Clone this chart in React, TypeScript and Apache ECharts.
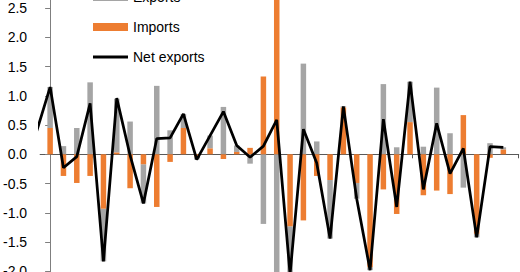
import React, { useEffect, useRef } from "react";
import * as echarts from "echarts";

// Quarter index; the first period sits just left of the plotted window.
const periods = [
  -1, 0, 1, 2, 3, 4, 5, 6, 7, 8, 9, 10, 11, 12, 13, 14, 15, 16, 17, 18, 19,
  20, 21, 22, 23, 24, 25, 26, 27, 28, 29, 30, 31, 32, 33, 34,
];

// Contributions, percentage points
const imports = [
  0.2, 0.45, -0.37, -0.49, -0.37, -0.93, 0.03, -0.58, -0.17, -0.9, -0.13,
  0.45, -0.04, 0.1, -0.08, 0.04, 0.11, 1.33, 2.95, -1.23, -1.13, -0.37, -0.44,
  0.8, -0.49, -1.93, -0.6, -1.02, 0.55, -0.7, -0.62, -0.68, 0.67, -1.36,
  -0.06, 0.08,
];

const exports = [
  0.15, 0.7, 0.14, 0.45, 1.23, -0.9, 0.92, 0.56, -0.67, 1.17, 0.41, 0.24,
  -0.05, 0.22, 0.81, 0.11, -0.16, -1.19, -2.36, -0.82, 1.55, 0.22, -1.0, 0.02,
  -0.27, -0.05, 1.2, 0.12, 0.69, 0.13, 1.14, 0.36, -0.57, -0.06, 0.19, 0.04,
];

const netExports = [
  0.4, 1.15, -0.23, -0.04, 0.87, -1.83, 0.96, -0.02, -0.84, 0.27, 0.28, 0.69,
  -0.09, 0.32, 0.73, 0.15, -0.05, 0.14, 0.59, -2.05, 0.43, -0.15, -1.44, 0.82,
  -0.76, -1.98, 0.6, -0.9, 1.24, -0.6, 0.53, -0.33, 0.1, -1.42, 0.13, 0.12,
];

// Year boundary ticks along the zero line
const yearTicks = [3.15, 11.15, 19.15, 27.15, 35.15];

const FONT = "'Liberation Sans', Arial, sans-serif";
const ORANGE = "#ED7D31";
const GREY = "#A5A5A5";
const BAR_W = 5.5;

const tradeRows = periods.map((p, i) => [p, imports[i], exports[i]]);
const netRows = periods.map((p, i) => [p, netExports[i]]);

// Imports sit on the zero line; exports stack on top of imports when both
// share a sign, otherwise they grow from zero in the other direction.
function stackedBar(which: "imports" | "exports", color: string) {
  return (params: any, api: any) => {
    const x = api.value(0);
    const imp = api.value(1);
    const exp = api.value(2);
    let base = 0;
    let top = imp;
    if (which === "exports") {
      base = Math.sign(exp) === Math.sign(imp) ? imp : 0;
      top = base + exp;
    }
    const p0 = api.coord([x, base]);
    const p1 = api.coord([x, top]);
    const rect = {
      x: p0[0] - BAR_W / 2,
      y: Math.min(p0[1], p1[1]),
      width: BAR_W,
      height: Math.abs(p1[1] - p0[1]),
    };
    const cs = params.coordSys;
    const clipped = echarts.graphic.clipRectByRect(rect, {
      x: cs.x,
      y: cs.y,
      width: cs.width,
      height: cs.height,
    });
    if (!clipped) return null;
    return { type: "rect", shape: clipped, style: { fill: color } };
  };
}

export default function App() {
  const ref = useRef<HTMLDivElement>(null);

  useEffect(() => {
    if (!ref.current) return;
    const chart = echarts.init(ref.current, null, { renderer: "svg" });
    chart.setOption({
      animation: false,
      backgroundColor: "#ffffff",
      grid: { left: 40, right: 1.33, top: 18.8, bottom: 39.45 },
      legend: {
        orient: "vertical",
        left: 88,
        top: 24,
        itemWidth: 35,
        itemHeight: 8,
        itemGap: 14,
        symbolKeepAspect: true,
        textStyle: { fontFamily: FONT, fontSize: 14, color: "#000", lineHeight: 16 },
        data: [
          { name: "Exports", icon: "rect", itemStyle: { color: GREY } },
          { name: "Imports", icon: "rect", itemStyle: { color: ORANGE } },
          {
            name: "Net exports",
            icon: "path://M0,0L35,0L35,3L0,3Z",
            itemStyle: { color: "#000" },
          },
        ],
      },
      xAxis: {
        type: "value",
        min: -0.75,
        max: 35.15,
        axisLine: { onZero: true, lineStyle: { color: "#595959", width: 1 } },
        axisTick: {
          show: true,
          customValues: yearTicks,
          length: 4,
          lineStyle: { color: "#595959" },
        },
        axisLabel: { show: false },
        splitLine: { show: false },
      },
      yAxis: {
        type: "value",
        min: -2.5,
        max: 3,
        interval: 0.5,
        axisLine: { show: true, lineStyle: { color: "#7f7f7f", width: 1 } },
        axisTick: { show: true, length: 5, lineStyle: { color: "#7f7f7f" } },
        axisLabel: {
          margin: 13,
          fontSize: 14,
          fontFamily: FONT,
          color: "#000",
          formatter: (v: number) => v.toFixed(1),
        },
        splitLine: { show: false },
      },
      series: [
        {
          name: "Exports",
          type: "custom",
          renderItem: stackedBar("exports", GREY),
          encode: { x: 0, y: [1, 2] },
          itemStyle: { color: GREY },
          data: tradeRows,
          z: 2,
        },
        {
          name: "Imports",
          type: "custom",
          renderItem: stackedBar("imports", ORANGE),
          encode: { x: 0, y: [1, 2] },
          itemStyle: { color: ORANGE },
          data: tradeRows,
          z: 2,
        },
        {
          name: "Net exports",
          type: "line",
          symbol: "none",
          showSymbol: false,
          z: 5,
          lineStyle: { color: "#000", width: 2.75 },
          itemStyle: { color: "#000" },
          data: netRows,
        },
      ],
    });
    return () => chart.dispose();
  }, []);

  return (
    <div
      style={{
        position: "fixed",
        left: 0,
        top: 0,
        width: 520,
        height: 272,
        overflow: "hidden",
        background: "#fff",
      }}
    >
      <div
        ref={ref}
        style={{ position: "absolute", left: 0, top: -40, width: 520, height: 380 }}
      />
    </div>
  );
}
